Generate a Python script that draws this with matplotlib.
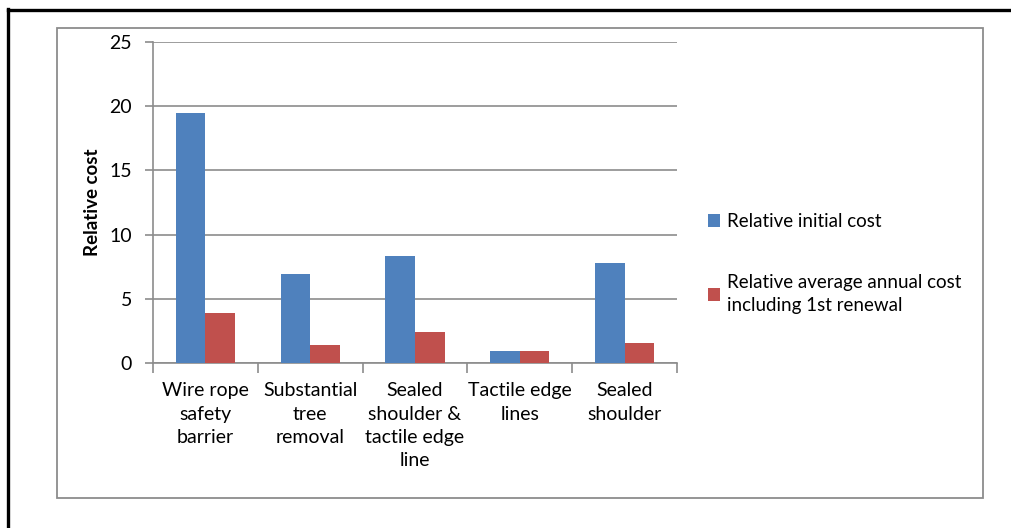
import matplotlib
matplotlib.use("Agg")
import matplotlib.pyplot as plt
import numpy as np
from matplotlib.patches import Rectangle
from matplotlib.lines import Line2D

plt.rcParams['font.family'] = ['Lato', 'DejaVu Sans']

categories = ["Wire rope\nsafety\nbarrier", "Substantial\ntree\nremoval",
              "Sealed\nshoulder &\ntactile edge\nline", "Tactile edge\nlines",
              "Sealed\nshoulder"]
initial_cost = [19.45, 6.93, 8.34, 0.97, 7.77]
annual_cost = [3.86, 1.37, 2.45, 0.97, 1.52]
series_names = ["Relative initial cost",
                "Relative average annual cost\nincluding 1st renewal"]

W, H = 1011, 528
fig = plt.figure(figsize=(W / 100, H / 100), dpi=100)

# outer frame (only top and left edges show)
fig.add_artist(Line2D([8 / W, 8 / W], [0, 1 - 9 / H], color='black', lw=2.4))
fig.add_artist(Line2D([8 / W, 1], [1 - 10 / H, 1 - 10 / H], color='black', lw=2.4))
# chart area border
fig.add_artist(Rectangle((57 / W, 1 - 498 / H), (983 - 57) / W, (498 - 28) / H,
                         fill=False, edgecolor='#8c8c8c', lw=1.3))

ax = fig.add_axes([153 / W, 1 - 363 / H, 524 / W, 321 / H])
x = np.arange(len(categories))
bw = 0.282
ax.bar(x - bw / 2, initial_cost, bw, color='#4F81BD', label=series_names[0], zorder=3)
ax.bar(x + bw / 2, annual_cost, bw, color='#C0504D', label=series_names[1], zorder=3)

ax.set_xlim(-0.5, len(categories) - 0.5)
ax.set_ylim(0, 25)
ax.set_yticks(range(0, 26, 5))
ax.yaxis.grid(True, color='#8c8c8c', lw=1.2, zorder=0)
ax.set_xticks(x)
ax.set_xticklabels(categories, fontsize=14, linespacing=1.45)
ax.set_xticks(np.arange(-0.5, len(categories), 1), minor=True)
ax.tick_params(axis='x', which='major', length=0, pad=14)
ax.tick_params(axis='x', which='minor', length=7, width=1.2, color='#8c8c8c')
ax.tick_params(axis='y', length=6, width=1.2, color='#8c8c8c', labelsize=14, pad=9)
for s in ['top', 'right']:
    ax.spines[s].set_visible(False)
for s in ['left', 'bottom']:
    ax.spines[s].set_color('#8c8c8c')
    ax.spines[s].set_linewidth(1.2)
ax.set_ylabel("Relative cost", fontsize=13.5, fontweight='bold', labelpad=6)

leg = fig.legend(loc='upper left', bbox_to_anchor=(691 / W, 1 - 196 / H), frameon=False,
                 fontsize=13.5, handlelength=0.65, handleheight=0.65, handletextpad=0.35,
                 labelspacing=2.35)
for t in leg.get_texts():
    t.set_linespacing(1.45)

fig.savefig("out.png", dpi=100)
